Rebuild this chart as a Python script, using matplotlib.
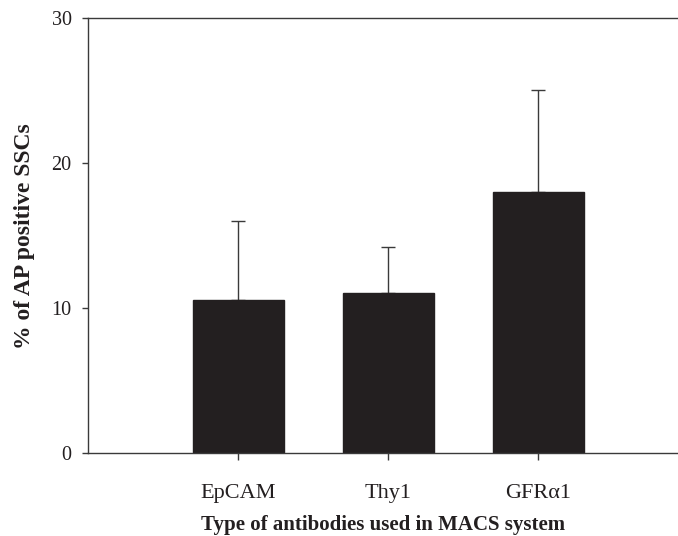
import matplotlib
matplotlib.use("Agg")
import matplotlib.pyplot as plt

categories = ["EpCAM", "Thy1", "GFR\u03b11"]
values = [10.6, 11.05, 18.05]
errors = [5.45, 3.2, 7.0]
yticks = [0, 10, 20, 30]

plt.rcParams['font.family'] = ['Liberation Serif', 'DejaVu Serif']

fig = plt.figure(figsize=(6.78, 5.36), dpi=100)
ax = fig.add_axes([88.3 / 678, (536 - 453.3) / 536, 1 - 88.3 / 678, (453.3 - 18.3) / 536])

x = [1, 2, 3]
ax.errorbar(x, values, yerr=[[0] * 3, errors], fmt='none', ecolor='#3a3a3a',
            elinewidth=1.0, capsize=5, capthick=1.0, zorder=1)
ax.bar(x, values, width=0.607, color='#231f20', edgecolor='#231f20', zorder=2)

ax.set_xlim(0, (678 - 88.3) / 150)
ax.set_ylim(0, 30)
ax.set_yticks(yticks)
ax.set_xticks(x)
ax.set_xticklabels(categories)

for s in ['left', 'bottom', 'top']:
    ax.spines[s].set_color('#3a3a3a')
    ax.spines[s].set_linewidth(1.0)
ax.spines['right'].set_visible(False)

ax.tick_params(axis='y', direction='out', length=4, width=1.0, color='#3a3a3a',
               labelsize=14.5, pad=8, labelcolor='#231f20')
ax.tick_params(axis='x', direction='out', length=5, width=1.0, color='#3a3a3a',
               labelsize=16, pad=17, labelcolor='#231f20')

ax.set_ylabel("% of AP positive SSCs", fontsize=17, fontweight='bold', color='#231f20', labelpad=12)
ax.set_xlabel("Type of antibodies used in MACS system", fontsize=15, fontweight='bold',
              color='#231f20', labelpad=9)

fig.savefig("out.png", dpi=100)
